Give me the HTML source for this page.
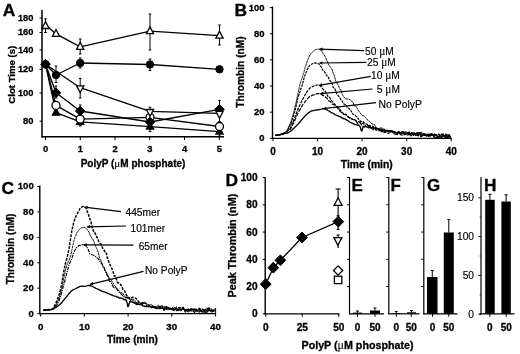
<!DOCTYPE html>
<html><head><meta charset="utf-8"><title>Figure</title>
<style>
html,body{margin:0;padding:0;background:#fff;}
body{width:520px;height:354px;overflow:hidden;font-family:"Liberation Sans",sans-serif;}
svg{display:block;filter:grayscale(100%);}
svg text{font-family:"Liberation Sans",sans-serif;fill:#000;}
</style></head><body>
<svg width="520" height="354" viewBox="0 0 520 354">
<rect width="520" height="354" fill="#fff"/>
<text transform="translate(2.8 15.6) scale(1.1 1)" font-size="15.8" font-weight="bold" stroke="#000" stroke-width="0.3">A</text>
<line x1="42.00" y1="10.00" x2="42.00" y2="137.60" stroke="#000" stroke-width="1.5"/>
<line x1="41.30" y1="136.80" x2="224.00" y2="136.80" stroke="#000" stroke-width="1.4"/>
<line x1="39.50" y1="18.00" x2="42.00" y2="18.00" stroke="#000" stroke-width="1"/>
<text x="33.4" y="20.9" font-size="9.3" font-weight="bold" text-anchor="end" stroke="#000" stroke-width="0.3">180</text>
<line x1="39.50" y1="32.50" x2="42.00" y2="32.50" stroke="#000" stroke-width="1"/>
<text x="33.4" y="35.4" font-size="9.3" font-weight="bold" text-anchor="end" stroke="#000" stroke-width="0.3">160</text>
<line x1="39.50" y1="50.00" x2="42.00" y2="50.00" stroke="#000" stroke-width="1"/>
<text x="33.4" y="52.9" font-size="9.3" font-weight="bold" text-anchor="end" stroke="#000" stroke-width="0.3">140</text>
<line x1="39.50" y1="69.50" x2="42.00" y2="69.50" stroke="#000" stroke-width="1"/>
<text x="33.4" y="72.4" font-size="9.3" font-weight="bold" text-anchor="end" stroke="#000" stroke-width="0.3">120</text>
<line x1="39.50" y1="93.00" x2="42.00" y2="93.00" stroke="#000" stroke-width="1"/>
<text x="33.4" y="95.9" font-size="9.3" font-weight="bold" text-anchor="end" stroke="#000" stroke-width="0.3">100</text>
<line x1="39.50" y1="121.20" x2="42.00" y2="121.20" stroke="#000" stroke-width="1"/>
<text x="33.4" y="124.10000000000001" font-size="9.3" font-weight="bold" text-anchor="end" stroke="#000" stroke-width="0.3">80</text>
<line x1="45.50" y1="137.00" x2="45.50" y2="140.00" stroke="#000" stroke-width="1"/>
<text x="45.5" y="152.4" font-size="9.3" font-weight="bold" text-anchor="middle" stroke="#000" stroke-width="0.3">0</text>
<line x1="80.25" y1="137.00" x2="80.25" y2="140.00" stroke="#000" stroke-width="1"/>
<text x="80.25" y="152.4" font-size="9.3" font-weight="bold" text-anchor="middle" stroke="#000" stroke-width="0.3">1</text>
<line x1="115.00" y1="137.00" x2="115.00" y2="140.00" stroke="#000" stroke-width="1"/>
<text x="115.0" y="152.4" font-size="9.3" font-weight="bold" text-anchor="middle" stroke="#000" stroke-width="0.3">2</text>
<line x1="149.75" y1="137.00" x2="149.75" y2="140.00" stroke="#000" stroke-width="1"/>
<text x="149.75" y="152.4" font-size="9.3" font-weight="bold" text-anchor="middle" stroke="#000" stroke-width="0.3">3</text>
<line x1="184.50" y1="137.00" x2="184.50" y2="140.00" stroke="#000" stroke-width="1"/>
<text x="184.5" y="152.4" font-size="9.3" font-weight="bold" text-anchor="middle" stroke="#000" stroke-width="0.3">4</text>
<line x1="219.25" y1="137.00" x2="219.25" y2="140.00" stroke="#000" stroke-width="1"/>
<text x="219.25" y="152.4" font-size="9.3" font-weight="bold" text-anchor="middle" stroke="#000" stroke-width="0.3">5</text>
<text x="133" y="166.6" font-size="10" font-weight="bold" text-anchor="middle" stroke="#000" stroke-width="0.3">PolyP (<tspan style="font-family:&quot;Liberation Serif&quot;,serif;font-weight:normal;stroke-width:0.1" font-size="112%">μ</tspan>M phosphate)</text>
<text x="14.8" y="74.7" font-size="9.6" font-weight="bold" text-anchor="middle" stroke="#000" stroke-width="0.3" transform="rotate(-90 14.8 74.7)">Clot Time (s)</text>
<path d="M45.5,24.7 L56.0,33.9 L80.2,46.8 L150.0,31.2 L219.5,35.6" fill="none" stroke="#000" stroke-width="1.35" stroke-linejoin="round"/>
<path d="M45.5,64.2 L56.0,112.7 L80.2,121.8 L150.0,126.6 L219.5,131.6" fill="none" stroke="#000" stroke-width="1.35" stroke-linejoin="round"/>
<path d="M45.5,64.2 L56.0,105.4 L80.2,119.1 L150.0,117.3 L219.5,126.5" fill="none" stroke="#000" stroke-width="1.35" stroke-linejoin="round"/>
<path d="M45.5,64.2 L56.0,92.8 L80.2,111.0 L150.0,122.0 L219.5,109.3" fill="none" stroke="#000" stroke-width="1.35" stroke-linejoin="round"/>
<path d="M45.5,64.2 L80.2,87.7 L150.0,111.4 L219.5,113.3" fill="none" stroke="#000" stroke-width="1.35" stroke-linejoin="round"/>
<path d="M45.5,64.2 L56.0,75.0 L80.2,63.0 L150.0,64.5 L219.5,69.3" fill="none" stroke="#000" stroke-width="1.35" stroke-linejoin="round"/>
<line x1="45.50" y1="18.80" x2="45.50" y2="32.50" stroke="#000" stroke-width="1"/>
<line x1="44.20" y1="18.80" x2="46.80" y2="18.80" stroke="#000" stroke-width="1"/>
<line x1="44.20" y1="32.50" x2="46.80" y2="32.50" stroke="#000" stroke-width="1"/>
<line x1="80.20" y1="39.00" x2="80.20" y2="54.00" stroke="#000" stroke-width="1"/>
<line x1="78.90" y1="39.00" x2="81.50" y2="39.00" stroke="#000" stroke-width="1"/>
<line x1="78.90" y1="54.00" x2="81.50" y2="54.00" stroke="#000" stroke-width="1"/>
<line x1="150.00" y1="14.00" x2="150.00" y2="50.00" stroke="#000" stroke-width="1"/>
<line x1="148.70" y1="14.00" x2="151.30" y2="14.00" stroke="#000" stroke-width="1"/>
<line x1="148.70" y1="50.00" x2="151.30" y2="50.00" stroke="#000" stroke-width="1"/>
<line x1="219.50" y1="25.00" x2="219.50" y2="45.00" stroke="#000" stroke-width="1"/>
<line x1="218.20" y1="25.00" x2="220.80" y2="25.00" stroke="#000" stroke-width="1"/>
<line x1="218.20" y1="45.00" x2="220.80" y2="45.00" stroke="#000" stroke-width="1"/>
<line x1="150.00" y1="120.00" x2="150.00" y2="131.60" stroke="#000" stroke-width="1"/>
<line x1="148.70" y1="120.00" x2="151.30" y2="120.00" stroke="#000" stroke-width="1"/>
<line x1="148.70" y1="131.60" x2="151.30" y2="131.60" stroke="#000" stroke-width="1"/>
<line x1="80.20" y1="118.00" x2="80.20" y2="126.00" stroke="#000" stroke-width="1"/>
<line x1="78.90" y1="118.00" x2="81.50" y2="118.00" stroke="#000" stroke-width="1"/>
<line x1="78.90" y1="126.00" x2="81.50" y2="126.00" stroke="#000" stroke-width="1"/>
<line x1="219.50" y1="128.00" x2="219.50" y2="136.00" stroke="#000" stroke-width="1"/>
<line x1="218.20" y1="128.00" x2="220.80" y2="128.00" stroke="#000" stroke-width="1"/>
<line x1="218.20" y1="136.00" x2="220.80" y2="136.00" stroke="#000" stroke-width="1"/>
<line x1="80.20" y1="114.00" x2="80.20" y2="125.00" stroke="#000" stroke-width="1"/>
<line x1="78.90" y1="114.00" x2="81.50" y2="114.00" stroke="#000" stroke-width="1"/>
<line x1="78.90" y1="125.00" x2="81.50" y2="125.00" stroke="#000" stroke-width="1"/>
<line x1="150.00" y1="112.00" x2="150.00" y2="123.00" stroke="#000" stroke-width="1"/>
<line x1="148.70" y1="112.00" x2="151.30" y2="112.00" stroke="#000" stroke-width="1"/>
<line x1="148.70" y1="123.00" x2="151.30" y2="123.00" stroke="#000" stroke-width="1"/>
<line x1="56.00" y1="86.00" x2="56.00" y2="98.00" stroke="#000" stroke-width="1"/>
<line x1="54.70" y1="86.00" x2="57.30" y2="86.00" stroke="#000" stroke-width="1"/>
<line x1="54.70" y1="98.00" x2="57.30" y2="98.00" stroke="#000" stroke-width="1"/>
<line x1="80.20" y1="105.00" x2="80.20" y2="116.00" stroke="#000" stroke-width="1"/>
<line x1="78.90" y1="105.00" x2="81.50" y2="105.00" stroke="#000" stroke-width="1"/>
<line x1="78.90" y1="116.00" x2="81.50" y2="116.00" stroke="#000" stroke-width="1"/>
<line x1="219.50" y1="100.50" x2="219.50" y2="116.00" stroke="#000" stroke-width="1"/>
<line x1="218.20" y1="100.50" x2="220.80" y2="100.50" stroke="#000" stroke-width="1"/>
<line x1="218.20" y1="116.00" x2="220.80" y2="116.00" stroke="#000" stroke-width="1"/>
<line x1="80.20" y1="78.40" x2="80.20" y2="98.00" stroke="#000" stroke-width="1"/>
<line x1="78.90" y1="78.40" x2="81.50" y2="78.40" stroke="#000" stroke-width="1"/>
<line x1="78.90" y1="98.00" x2="81.50" y2="98.00" stroke="#000" stroke-width="1"/>
<line x1="150.00" y1="107.20" x2="150.00" y2="118.00" stroke="#000" stroke-width="1"/>
<line x1="148.70" y1="107.20" x2="151.30" y2="107.20" stroke="#000" stroke-width="1"/>
<line x1="148.70" y1="118.00" x2="151.30" y2="118.00" stroke="#000" stroke-width="1"/>
<line x1="219.50" y1="110.00" x2="219.50" y2="121.50" stroke="#000" stroke-width="1"/>
<line x1="218.20" y1="110.00" x2="220.80" y2="110.00" stroke="#000" stroke-width="1"/>
<line x1="218.20" y1="121.50" x2="220.80" y2="121.50" stroke="#000" stroke-width="1"/>
<line x1="56.00" y1="66.00" x2="56.00" y2="82.50" stroke="#000" stroke-width="1"/>
<line x1="54.70" y1="66.00" x2="57.30" y2="66.00" stroke="#000" stroke-width="1"/>
<line x1="54.70" y1="82.50" x2="57.30" y2="82.50" stroke="#000" stroke-width="1"/>
<line x1="80.20" y1="58.00" x2="80.20" y2="68.00" stroke="#000" stroke-width="1"/>
<line x1="78.90" y1="58.00" x2="81.50" y2="58.00" stroke="#000" stroke-width="1"/>
<line x1="78.90" y1="68.00" x2="81.50" y2="68.00" stroke="#000" stroke-width="1"/>
<line x1="150.00" y1="59.00" x2="150.00" y2="70.50" stroke="#000" stroke-width="1"/>
<line x1="148.70" y1="59.00" x2="151.30" y2="59.00" stroke="#000" stroke-width="1"/>
<line x1="148.70" y1="70.50" x2="151.30" y2="70.50" stroke="#000" stroke-width="1"/>
<path d="M41.90,28.52 L49.10,28.52 L45.50,21.64 Z" fill="#fff" stroke="#000" stroke-width="1.3"/>
<path d="M52.40,36.42 L59.60,36.42 L56.00,29.54 Z" fill="#fff" stroke="#000" stroke-width="1.3"/>
<path d="M76.60,49.32 L83.80,49.32 L80.20,42.44 Z" fill="#fff" stroke="#000" stroke-width="1.3"/>
<path d="M146.40,33.72 L153.60,33.72 L150.00,26.84 Z" fill="#fff" stroke="#000" stroke-width="1.3"/>
<path d="M215.90,38.12 L223.10,38.12 L219.50,31.24 Z" fill="#fff" stroke="#000" stroke-width="1.3"/>
<path d="M52.40,115.22 L59.60,115.22 L56.00,108.34 Z" fill="#000" stroke="#000" stroke-width="1.3"/>
<path d="M76.60,124.32 L83.80,124.32 L80.20,117.44 Z" fill="#000" stroke="#000" stroke-width="1.3"/>
<path d="M146.40,129.12 L153.60,129.12 L150.00,122.24 Z" fill="#000" stroke="#000" stroke-width="1.3"/>
<path d="M215.90,134.12 L223.10,134.12 L219.50,127.24 Z" fill="#000" stroke="#000" stroke-width="1.3"/>
<circle cx="56.00" cy="105.40" r="4.0" fill="#fff" stroke="#000" stroke-width="1.3"/>
<circle cx="80.20" cy="119.10" r="4.0" fill="#fff" stroke="#000" stroke-width="1.3"/>
<circle cx="150.00" cy="117.30" r="4.0" fill="#fff" stroke="#000" stroke-width="1.3"/>
<circle cx="219.50" cy="126.50" r="4.0" fill="#fff" stroke="#000" stroke-width="1.3"/>
<path d="M40.70,64.20 L45.50,59.40 L50.30,64.20 L45.50,69.00 Z" fill="#000" stroke="#000" stroke-width="1"/>
<path d="M51.20,92.75 L56.00,87.95 L60.80,92.75 L56.00,97.55 Z" fill="#000" stroke="#000" stroke-width="1"/>
<path d="M75.40,111.00 L80.20,106.20 L85.00,111.00 L80.20,115.80 Z" fill="#000" stroke="#000" stroke-width="1"/>
<path d="M145.20,122.00 L150.00,117.20 L154.80,122.00 L150.00,126.80 Z" fill="#000" stroke="#000" stroke-width="1"/>
<path d="M214.70,109.30 L219.50,104.50 L224.30,109.30 L219.50,114.10 Z" fill="#000" stroke="#000" stroke-width="1"/>
<path d="M76.60,85.78 L83.80,85.78 L80.20,92.66 Z" fill="#fff" stroke="#000" stroke-width="1.3"/>
<path d="M146.40,109.48 L153.60,109.48 L150.00,116.36 Z" fill="#fff" stroke="#000" stroke-width="1.3"/>
<path d="M215.90,111.38 L223.10,111.38 L219.50,118.26 Z" fill="#fff" stroke="#000" stroke-width="1.3"/>
<circle cx="45.50" cy="64.20" r="3.7" fill="#000" stroke="#000" stroke-width="1"/>
<circle cx="56.00" cy="75.00" r="3.7" fill="#000" stroke="#000" stroke-width="1"/>
<circle cx="80.20" cy="63.00" r="3.7" fill="#000" stroke="#000" stroke-width="1"/>
<circle cx="150.00" cy="64.50" r="3.7" fill="#000" stroke="#000" stroke-width="1"/>
<circle cx="219.50" cy="69.30" r="3.7" fill="#000" stroke="#000" stroke-width="1"/>
<text transform="translate(234.4 15.5) scale(1.1 1)" font-size="15.8" font-weight="bold" stroke="#000" stroke-width="0.3">B</text>
<line x1="272.50" y1="6.50" x2="272.50" y2="138.90" stroke="#000" stroke-width="1.4"/>
<line x1="271.90" y1="138.30" x2="451.80" y2="138.30" stroke="#000" stroke-width="1.3"/>
<line x1="270.00" y1="138.30" x2="272.50" y2="138.30" stroke="#000" stroke-width="1"/>
<text x="264.5" y="141.3" font-size="9.5" font-weight="bold" text-anchor="end" stroke="#000" stroke-width="0.3">0</text>
<line x1="270.00" y1="112.16" x2="272.50" y2="112.16" stroke="#000" stroke-width="1"/>
<text x="264.5" y="115.16000000000001" font-size="9.5" font-weight="bold" text-anchor="end" stroke="#000" stroke-width="0.3">20</text>
<line x1="270.00" y1="86.02" x2="272.50" y2="86.02" stroke="#000" stroke-width="1"/>
<text x="264.5" y="89.02000000000001" font-size="9.5" font-weight="bold" text-anchor="end" stroke="#000" stroke-width="0.3">40</text>
<line x1="270.00" y1="59.88" x2="272.50" y2="59.88" stroke="#000" stroke-width="1"/>
<text x="264.5" y="62.88000000000001" font-size="9.5" font-weight="bold" text-anchor="end" stroke="#000" stroke-width="0.3">60</text>
<line x1="270.00" y1="33.74" x2="272.50" y2="33.74" stroke="#000" stroke-width="1"/>
<text x="264.5" y="36.74000000000001" font-size="9.5" font-weight="bold" text-anchor="end" stroke="#000" stroke-width="0.3">80</text>
<line x1="270.00" y1="7.60" x2="272.50" y2="7.60" stroke="#000" stroke-width="1"/>
<text x="264.5" y="10.600000000000023" font-size="9.5" font-weight="bold" text-anchor="end" stroke="#000" stroke-width="0.3">100</text>
<line x1="273.00" y1="138.30" x2="273.00" y2="141.30" stroke="#000" stroke-width="1"/>
<text x="273.0" y="154.7" font-size="10" font-weight="bold" text-anchor="middle" stroke="#000" stroke-width="0.3">0</text>
<line x1="317.56" y1="138.30" x2="317.56" y2="141.30" stroke="#000" stroke-width="1"/>
<text x="317.56" y="154.7" font-size="10" font-weight="bold" text-anchor="middle" stroke="#000" stroke-width="0.3">10</text>
<line x1="362.12" y1="138.30" x2="362.12" y2="141.30" stroke="#000" stroke-width="1"/>
<text x="362.12" y="154.7" font-size="10" font-weight="bold" text-anchor="middle" stroke="#000" stroke-width="0.3">20</text>
<line x1="406.68" y1="138.30" x2="406.68" y2="141.30" stroke="#000" stroke-width="1"/>
<text x="406.68" y="154.7" font-size="10" font-weight="bold" text-anchor="middle" stroke="#000" stroke-width="0.3">30</text>
<line x1="451.24" y1="138.30" x2="451.24" y2="141.30" stroke="#000" stroke-width="1"/>
<text x="451.24" y="154.7" font-size="10" font-weight="bold" text-anchor="middle" stroke="#000" stroke-width="0.3">40</text>
<text x="366.75" y="168" font-size="10.3" font-weight="bold" text-anchor="middle" stroke="#000" stroke-width="0.3">Time (min)</text>
<text x="244.4" y="72" font-size="10.2" font-weight="bold" text-anchor="middle" stroke="#000" stroke-width="0.3" transform="rotate(-90 244.4 72)">Thrombin (nM)</text>
<path d="M275.5,135.3 L276.6,135.1 L277.7,135.2 L278.8,134.7 L280.0,134.6 L281.4,134.1 L282.5,133.7 L283.5,133.5 L284.5,132.9 L285.4,132.5 L286.4,131.3 L287.2,130.0 L287.7,129.3 L288.1,128.5 L288.5,127.1 L289.0,126.1 L289.6,124.9 L290.1,123.7 L290.5,122.6 L290.9,121.5 L291.3,120.8 L291.6,119.2 L292.0,118.5 L292.4,116.8 L292.8,115.3 L293.1,114.3 L293.4,113.4 L293.7,112.6 L294.0,111.2 L294.2,110.3 L294.5,109.3 L294.7,108.2 L295.0,107.2 L295.2,106.0 L295.5,105.0 L295.7,104.1 L295.9,103.3 L296.1,102.2 L296.3,101.1 L296.5,100.3 L296.7,99.2 L297.0,98.1 L297.2,97.4 L297.4,96.3 L297.6,95.1 L297.8,94.2 L298.1,93.2 L298.3,92.3 L298.5,91.2 L298.7,89.9 L298.9,89.2 L299.2,87.7 L299.4,86.9 L299.6,86.1 L300.0,84.3 L300.3,83.4 L300.6,82.1 L300.9,81.4 L301.2,80.5 L301.6,79.4 L301.9,78.6 L302.2,77.4 L302.5,76.6 L302.8,75.6 L303.1,74.5 L303.4,73.5 L303.8,72.7 L304.1,71.7 L304.4,70.4 L304.6,69.5 L304.9,68.2 L305.2,67.5 L305.6,66.5 L306.0,65.2 L306.4,64.1 L306.7,62.8 L307.1,61.8 L307.4,61.0 L307.8,59.7 L308.3,58.6 L308.8,57.2 L309.3,56.2 L309.9,55.1 L310.5,54.5 L311.1,53.4 L312.0,52.4 L312.9,51.5 L313.7,51.0 L314.6,50.1 L315.5,49.7 L316.5,49.3 L317.5,49.2 L318.5,49.2 L319.5,49.6 L320.5,49.9 L321.3,50.8 L322.2,51.9 L322.8,53.1 L323.4,54.2 L324.0,54.8 L325.0,56.2 L326.0,58.6 L327.0,60.7 L328.1,63.3 L329.4,65.8 L330.7,67.3 L331.9,69.0 L333.0,72.5 L334.0,74.7 L334.9,77.7 L335.8,81.2 L336.7,82.7 L337.8,84.6 L339.0,87.3 L340.1,89.7 L341.2,89.9 L342.3,94.4 L343.5,96.4 L345.3,98.7 L347.7,99.1 L349.7,99.4 L351.2,101.0 L352.8,102.0 L354.3,105.8 L355.8,106.0 L357.2,108.2 L358.6,110.9 L360.2,112.8 L362.1,115.3 L364.0,116.1 L365.8,117.8 L367.7,120.2 L369.7,121.6 L372.0,124.1 L374.2,124.2 L376.6,128.4 L378.9,128.5 L381.2,127.7 L383.5,128.9 L385.9,130.1 L388.3,130.7 L390.9,130.3 L393.4,133.6 L395.8,134.6 L398.4,132.7 L400.9,133.0 L403.4,131.6 L405.9,131.9 L408.5,133.1 L411.0,133.0 L413.5,135.6 L416.0,133.0 L418.5,132.6 L421.0,136.7 L423.5,135.1 L426.0,133.7 L428.5,135.5 L431.0,133.5 L433.5,135.7 L435.9,137.7 L438.4,137.4 L441.0,136.8 L443.2,135.0 L445.6,135.6 L447.8,134.8 L450.1,137.4" fill="none" stroke="#000" stroke-width="0.95" stroke-dasharray="2.6 0.5" stroke-linejoin="round"/>
<path d="M275.5,135.4 L276.6,135.4 L277.7,135.0 L278.8,134.8 L280.0,134.7 L281.4,134.4 L282.4,134.0 L283.5,133.6 L284.5,133.2 L285.4,132.6 L286.2,131.8 L287.1,130.8 L287.7,129.8 L288.2,128.8 L288.8,127.8 L289.3,126.8 L289.9,125.6 L290.5,124.5 L291.0,123.3 L291.4,122.1 L291.8,121.3 L292.1,120.3 L292.5,119.2 L292.9,117.6 L293.4,116.1 L293.7,115.1 L294.0,114.1 L294.3,113.1 L294.6,112.2 L294.9,111.2 L295.2,110.2 L295.4,109.0 L295.7,108.1 L295.9,107.1 L296.2,105.9 L296.4,105.1 L296.7,103.7 L296.9,102.7 L297.1,101.7 L297.3,100.6 L297.5,99.5 L297.8,98.7 L298.1,97.5 L298.3,96.7 L298.8,95.3 L299.1,94.1 L299.4,93.1 L299.8,92.3 L300.1,91.2 L300.5,90.0 L300.8,89.0 L301.2,88.0 L301.5,87.4 L302.0,85.9 L302.4,84.4 L302.7,83.5 L303.0,82.5 L303.3,81.3 L303.5,80.2 L303.8,79.3 L304.1,77.6 L304.5,76.2 L305.0,75.2 L305.4,74.0 L305.8,72.9 L306.3,72.0 L306.7,70.8 L307.2,69.9 L307.6,69.0 L308.3,67.5 L309.2,66.2 L310.0,65.3 L310.8,64.6 L312.0,64.0 L313.0,63.4 L314.0,63.2 L315.5,62.9 L317.0,63.3 L318.0,63.5 L319.1,64.4 L319.8,65.3 L320.6,66.4 L321.3,67.1 L322.7,70.0 L324.1,71.2 L325.6,73.6 L326.9,75.7 L328.2,76.6 L329.4,79.9 L330.7,81.5 L332.0,83.2 L333.2,87.5 L334.5,88.0 L335.7,91.0 L336.9,94.0 L338.2,95.7 L339.5,97.2 L341.1,99.9 L342.7,101.9 L344.3,104.5 L345.9,104.5 L347.5,107.9 L349.2,108.8 L351.0,110.7 L352.8,114.0 L354.7,115.0 L356.7,116.9 L358.7,119.3 L360.8,121.5 L362.9,121.5 L365.1,123.6 L367.3,124.4 L369.6,125.6 L371.9,127.3 L374.3,127.3 L376.8,128.3 L379.2,128.9 L381.6,131.6 L384.0,131.5 L386.4,132.8 L388.9,133.4 L391.5,131.0 L393.9,132.5 L396.3,134.4 L398.9,134.3 L401.4,131.6 L403.9,131.8 L406.4,133.4 L409.0,132.0 L411.5,132.9 L414.0,132.4 L416.5,135.1 L419.0,135.8 L421.5,136.5 L424.0,133.5 L426.5,136.1 L429.0,136.0 L431.5,134.0 L434.0,137.2 L436.4,137.7 L439.0,134.7 L441.5,137.9 L443.8,135.6 L446.1,136.1 L448.8,138.3 L451.0,137.7" fill="none" stroke="#000" stroke-width="1.2" stroke-dasharray="2.6 0.9" stroke-linejoin="round"/>
<path d="M275.5,135.3 L276.6,135.2 L277.7,135.1 L278.8,134.8 L280.0,134.5 L281.4,134.1 L282.4,133.9 L283.4,133.2 L284.4,133.0 L285.4,132.4 L286.2,131.7 L287.0,131.2 L288.1,130.4 L288.8,129.6 L289.5,128.6 L290.1,128.1 L290.8,126.8 L291.5,125.6 L291.9,124.3 L292.3,123.4 L292.8,122.3 L293.2,121.7 L293.7,120.1 L294.1,119.1 L294.5,118.3 L294.8,117.5 L295.2,116.5 L295.5,115.3 L295.9,114.3 L296.3,113.7 L296.7,112.5 L297.1,111.6 L297.5,110.3 L297.9,109.3 L298.3,108.6 L298.7,107.5 L299.1,106.5 L299.5,105.9 L300.0,104.8 L300.4,104.0 L301.0,102.4 L301.7,101.3 L302.2,100.1 L302.6,99.5 L303.1,98.5 L303.6,97.5 L304.1,96.6 L304.6,95.8 L305.1,94.7 L305.6,93.7 L306.4,92.7 L307.0,91.6 L307.7,90.7 L308.3,89.9 L309.3,88.8 L310.3,87.9 L311.2,87.3 L312.2,86.7 L313.2,86.4 L314.2,85.8 L315.7,85.4 L316.9,85.0 L318.0,85.0 L319.0,85.1 L320.2,85.9 L321.0,86.6 L321.8,87.8 L323.5,89.7 L325.1,91.0 L326.5,93.4 L328.0,96.6 L329.5,96.8 L331.0,100.6 L332.6,101.6 L334.3,103.6 L336.1,106.3 L338.0,107.1 L339.9,109.4 L341.8,111.7 L343.8,114.2 L345.9,114.0 L348.0,116.9 L350.1,118.0 L352.3,119.2 L354.4,120.0 L356.6,121.3 L358.8,121.6 L361.2,122.9 L363.6,123.6 L366.1,126.7 L368.5,125.9 L371.0,126.3 L373.5,126.7 L376.1,130.0 L378.5,130.7 L381.0,130.7 L383.5,129.8 L385.9,130.2 L388.4,130.7 L390.9,131.7 L393.4,130.8 L395.8,132.3 L398.4,131.8 L400.9,135.0 L403.4,135.3 L405.9,133.7 L408.5,132.7 L411.0,135.9 L413.5,133.4 L416.0,133.8 L418.5,132.5 L421.0,134.3 L423.5,134.9 L426.0,135.2 L428.5,134.1 L431.0,135.5 L433.5,133.5 L435.9,134.7 L438.4,134.1 L441.0,135.5 L443.2,134.1 L445.6,134.1 L447.8,135.4 L450.1,135.1" fill="none" stroke="#000" stroke-width="1.2" stroke-dasharray="3 1.0" stroke-linejoin="round"/>
<path d="M275.5,135.4 L276.6,135.3 L277.7,135.2 L278.8,135.0 L280.0,134.7 L281.4,134.3 L282.4,133.7 L283.4,133.3 L284.4,133.1 L285.3,132.3 L286.2,132.0 L287.1,131.5 L288.0,130.7 L289.2,130.1 L289.9,129.5 L290.6,128.7 L291.4,127.5 L292.1,126.3 L292.6,125.1 L293.0,124.3 L293.5,123.3 L293.9,122.5 L294.3,121.6 L294.8,120.6 L295.2,119.5 L295.6,118.6 L296.1,117.6 L296.5,116.6 L296.9,115.5 L297.3,114.5 L297.8,113.6 L298.4,112.3 L299.1,110.9 L299.8,109.9 L300.3,108.9 L300.8,108.0 L301.3,107.1 L301.9,106.2 L302.5,105.2 L303.1,104.1 L303.7,103.5 L304.3,102.7 L305.0,101.7 L305.7,100.8 L306.4,100.0 L307.1,99.0 L307.8,98.5 L308.8,97.3 L309.7,96.5 L310.6,96.0 L311.6,95.7 L312.5,95.1 L313.5,94.9 L314.5,94.6 L315.5,94.1 L316.6,93.8 L317.6,93.6 L319.0,93.6 L320.0,93.7 L321.3,94.3 L322.3,95.1 L323.3,95.6 L324.5,96.5 L326.7,97.9 L328.6,100.8 L330.5,101.6 L332.4,104.2 L334.3,104.6 L336.2,106.4 L338.1,108.6 L340.0,111.2 L342.0,112.9 L344.0,114.5 L346.1,114.9 L348.3,116.9 L350.5,118.1 L352.8,119.5 L355.2,119.7 L357.5,123.4 L359.9,122.5 L362.3,126.0 L364.6,126.8 L367.0,124.6 L369.4,126.8 L371.7,128.7 L374.4,130.0 L376.9,128.8 L379.5,128.8 L381.6,129.1 L384.1,132.5 L386.7,130.2 L389.1,132.0 L391.5,130.5 L393.9,132.3 L396.3,134.4 L398.9,131.3 L401.4,134.5 L403.9,133.4 L406.4,135.2 L409.0,134.7 L411.5,132.9 L414.0,135.9 L416.5,134.4 L419.0,132.6 L421.5,132.7 L424.0,135.0 L426.5,135.0 L429.0,134.5 L431.5,134.0 L434.0,135.0 L436.4,135.0 L439.0,137.3 L441.5,133.9 L443.8,137.1 L446.1,137.6 L448.8,134.6 L451.0,138.1" fill="none" stroke="#000" stroke-width="1.2" stroke-dasharray="4 1.1" stroke-linejoin="round"/>
<path d="M275.5,135.4 L276.6,135.3 L277.7,135.2 L278.8,135.0 L280.0,134.8 L281.0,134.6 L282.1,134.3 L283.3,134.0 L284.4,133.7 L285.4,133.4 L286.5,133.1 L287.5,133.0 L289.0,132.3 L290.1,131.5 L290.8,130.9 L291.7,130.2 L292.5,129.4 L293.3,128.7 L294.1,128.0 L294.8,127.3 L295.5,126.6 L296.3,125.9 L297.0,125.1 L297.8,124.4 L298.5,123.6 L299.2,122.8 L299.9,122.0 L300.6,121.2 L301.2,120.3 L301.9,119.5 L302.6,118.7 L303.6,117.6 L304.3,116.8 L305.1,116.0 L305.8,115.3 L306.8,114.3 L307.6,113.6 L308.5,112.9 L309.3,112.3 L310.2,111.7 L311.1,111.2 L312.1,110.8 L313.2,110.6 L314.3,110.4 L315.4,110.2 L316.4,110.0 L317.5,109.8 L318.6,109.6 L319.6,109.5 L320.6,109.3 L321.6,109.1 L322.9,108.7 L324.0,108.7 L325.0,108.9 L326.2,109.5 L327.1,109.9 L328.0,110.5 L329.0,111.0 L329.9,111.6 L330.8,112.3 L331.7,112.9 L332.6,113.0 L333.5,113.5 L334.4,114.0 L335.3,114.9 L336.2,115.1 L337.1,115.5 L338.0,116.0 L339.0,116.3 L339.9,116.6 L340.9,117.1 L341.9,118.0 L342.9,118.0 L343.8,118.9 L344.8,118.9 L345.7,119.4 L346.6,120.1 L347.6,120.4 L348.5,121.0 L349.4,122.0 L350.3,122.4 L351.6,123.0 L352.6,123.4 L353.7,124.0 L354.7,124.4 L356.0,124.6 L357.2,125.2 L358.5,125.0 L359.8,126.2 L360.4,127.4 L360.7,128.8 L361.3,130.5 L361.8,131.1 L362.3,129.5 L362.6,128.9 L363.1,127.0 L364.2,126.6 L365.4,126.5 L366.5,126.7 L367.8,127.4 L368.9,127.8 L370.2,127.4 L371.7,128.0 L372.7,127.9 L373.8,128.3 L374.8,128.4 L375.9,128.4 L376.9,128.6 L377.9,128.9 L378.9,129.9 L380.0,129.7 L381.0,129.7 L382.1,130.7 L383.1,131.1 L384.1,130.7 L385.5,130.7 L386.6,131.0 L387.6,131.0 L389.0,131.5 L390.5,131.3 L391.5,131.6 L392.5,131.8 L393.9,132.3 L395.3,132.9 L396.8,132.9 L397.8,132.7 L398.9,132.8 L400.0,133.0 L401.4,133.0 L402.9,133.1 L403.9,132.8 L404.9,133.2 L405.9,134.1 L406.9,133.2 L408.0,133.7 L409.0,134.0 L410.0,134.4 L411.0,133.6 L412.0,133.8 L413.0,133.8 L414.0,134.1 L415.0,134.2 L416.0,135.0 L417.0,134.9 L418.0,135.1 L419.0,134.0 L420.0,134.0 L421.0,135.1 L422.0,135.4 L423.0,134.9 L424.0,135.1 L425.0,134.4 L426.0,135.0 L427.0,135.8 L428.0,135.7 L429.0,135.8 L430.0,136.1 L431.5,135.1 L433.0,135.0 L434.4,135.2 L435.9,135.7 L437.4,136.0 L438.4,136.5 L439.5,136.2 L440.5,136.1 L441.5,136.3 L442.7,135.9 L443.8,136.1 L445.0,135.4 L446.1,136.5 L447.2,135.8 L448.3,136.8 L449.7,136.5 L450.7,136.0" fill="none" stroke="#000" stroke-width="1.35" stroke-linejoin="round"/>
<line x1="364.00" y1="50.60" x2="319.50" y2="49.10" stroke="#000" stroke-width="1.25"/>
<path d="M319.50,49.10 L322.68,47.41 L322.56,51.00 Z" fill="#000"/>
<line x1="366.30" y1="62.30" x2="319.30" y2="63.00" stroke="#000" stroke-width="1.25"/>
<path d="M319.30,63.00 L322.39,61.15 L322.44,64.75 Z" fill="#000"/>
<line x1="370.80" y1="76.30" x2="319.00" y2="85.40" stroke="#000" stroke-width="1.25"/>
<path d="M319.00,85.40 L321.76,83.09 L322.38,86.63 Z" fill="#000"/>
<line x1="372.50" y1="89.00" x2="320.30" y2="93.60" stroke="#000" stroke-width="1.25"/>
<path d="M320.30,93.60 L323.25,91.53 L323.56,95.12 Z" fill="#000"/>
<line x1="376.00" y1="102.60" x2="323.20" y2="108.70" stroke="#000" stroke-width="1.25"/>
<path d="M323.20,108.70 L326.09,106.55 L326.50,110.13 Z" fill="#000"/>
<text x="365" y="54.5" font-size="10.2" font-weight="normal" text-anchor="start" stroke="#000" stroke-width="0.15">50 <tspan style="font-family:&quot;Liberation Serif&quot;,serif;font-weight:normal;stroke-width:0.1" font-size="112%">μ</tspan>M</text>
<text x="367" y="65.5" font-size="10.2" font-weight="normal" text-anchor="start" stroke="#000" stroke-width="0.15">25 <tspan style="font-family:&quot;Liberation Serif&quot;,serif;font-weight:normal;stroke-width:0.1" font-size="112%">μ</tspan>M</text>
<text x="371" y="78.8" font-size="10.2" font-weight="normal" text-anchor="start" stroke="#000" stroke-width="0.15">10 <tspan style="font-family:&quot;Liberation Serif&quot;,serif;font-weight:normal;stroke-width:0.1" font-size="112%">μ</tspan>M</text>
<text x="376.8" y="93.4" font-size="10.2" font-weight="normal" text-anchor="start" stroke="#000" stroke-width="0.15">5 <tspan style="font-family:&quot;Liberation Serif&quot;,serif;font-weight:normal;stroke-width:0.1" font-size="112%">μ</tspan>M</text>
<text x="378.6" y="107.5" font-size="10.4" font-weight="normal" text-anchor="start" stroke="#000" stroke-width="0.15">No PolyP</text>
<text transform="translate(1.5 193.9) scale(1.1 1)" font-size="15.8" font-weight="bold" stroke="#000" stroke-width="0.3">C</text>
<line x1="39.80" y1="185.50" x2="39.80" y2="314.20" stroke="#000" stroke-width="1.4"/>
<line x1="39.20" y1="313.60" x2="216.00" y2="313.60" stroke="#000" stroke-width="1.3"/>
<line x1="215.60" y1="308.00" x2="215.60" y2="316.00" stroke="#000" stroke-width="1"/>
<line x1="37.30" y1="313.60" x2="39.80" y2="313.60" stroke="#000" stroke-width="1"/>
<text x="33.7" y="316.5" font-size="9.5" font-weight="bold" text-anchor="end" stroke="#000" stroke-width="0.3">0</text>
<line x1="37.30" y1="288.18" x2="39.80" y2="288.18" stroke="#000" stroke-width="1"/>
<text x="33.7" y="291.08" font-size="9.5" font-weight="bold" text-anchor="end" stroke="#000" stroke-width="0.3">20</text>
<line x1="37.30" y1="262.76" x2="39.80" y2="262.76" stroke="#000" stroke-width="1"/>
<text x="33.7" y="265.66" font-size="9.5" font-weight="bold" text-anchor="end" stroke="#000" stroke-width="0.3">40</text>
<line x1="37.30" y1="237.34" x2="39.80" y2="237.34" stroke="#000" stroke-width="1"/>
<text x="33.7" y="240.24000000000004" font-size="9.5" font-weight="bold" text-anchor="end" stroke="#000" stroke-width="0.3">60</text>
<line x1="37.30" y1="211.92" x2="39.80" y2="211.92" stroke="#000" stroke-width="1"/>
<text x="33.7" y="214.82000000000002" font-size="9.5" font-weight="bold" text-anchor="end" stroke="#000" stroke-width="0.3">80</text>
<line x1="37.30" y1="186.50" x2="39.80" y2="186.50" stroke="#000" stroke-width="1"/>
<text x="33.7" y="189.40000000000003" font-size="9.5" font-weight="bold" text-anchor="end" stroke="#000" stroke-width="0.3">100</text>
<line x1="40.70" y1="313.60" x2="40.70" y2="316.60" stroke="#000" stroke-width="1"/>
<text x="40.7" y="329.9" font-size="9.8" font-weight="bold" text-anchor="middle" stroke="#000" stroke-width="0.3">0</text>
<line x1="84.40" y1="313.60" x2="84.40" y2="316.60" stroke="#000" stroke-width="1"/>
<text x="84.4" y="329.9" font-size="9.8" font-weight="bold" text-anchor="middle" stroke="#000" stroke-width="0.3">10</text>
<line x1="128.10" y1="313.60" x2="128.10" y2="316.60" stroke="#000" stroke-width="1"/>
<text x="128.10000000000002" y="329.9" font-size="9.8" font-weight="bold" text-anchor="middle" stroke="#000" stroke-width="0.3">20</text>
<line x1="171.80" y1="313.60" x2="171.80" y2="316.60" stroke="#000" stroke-width="1"/>
<text x="171.8" y="329.9" font-size="9.8" font-weight="bold" text-anchor="middle" stroke="#000" stroke-width="0.3">30</text>
<line x1="215.50" y1="313.60" x2="215.50" y2="316.60" stroke="#000" stroke-width="1"/>
<text x="215.5" y="329.9" font-size="9.8" font-weight="bold" text-anchor="middle" stroke="#000" stroke-width="0.3">40</text>
<text x="132.5" y="342.8" font-size="10.1" font-weight="bold" text-anchor="middle" stroke="#000" stroke-width="0.3">Time (min)</text>
<text x="14" y="249" font-size="10.1" font-weight="bold" text-anchor="middle" stroke="#000" stroke-width="0.3" transform="rotate(-90 14 249)">Thrombin (nM)</text>
<path d="M43.4,310.1 L44.6,310.0 L45.7,310.1 L46.9,310.0 L48.0,309.6 L49.2,309.5 L50.3,309.7 L51.4,309.5 L52.4,309.0 L53.3,308.0 L54.0,307.0 L54.5,305.7 L55.1,304.6 L55.6,303.5 L56.2,302.5 L56.6,301.4 L57.1,300.5 L57.5,299.3 L57.9,298.2 L58.3,297.2 L58.6,296.4 L58.9,295.3 L59.4,293.8 L59.8,292.2 L60.0,291.4 L60.3,290.5 L60.5,289.4 L60.7,288.3 L61.0,287.5 L61.2,286.6 L61.4,285.3 L61.6,284.2 L61.8,283.3 L62.0,282.4 L62.1,281.4 L62.3,280.2 L62.5,279.5 L62.6,278.4 L62.8,277.3 L63.0,275.7 L63.2,274.6 L63.4,273.4 L63.6,272.5 L63.8,271.2 L64.0,270.2 L64.2,269.4 L64.4,268.2 L64.7,267.0 L65.0,265.4 L65.2,264.3 L65.5,263.3 L65.7,262.4 L66.1,261.0 L66.5,259.7 L66.8,258.4 L67.0,257.5 L67.4,256.1 L67.7,255.0 L68.0,253.2 L68.3,252.2 L68.5,251.2 L68.7,250.2 L68.9,249.0 L69.2,247.6 L69.4,246.6 L69.5,245.6 L69.7,244.6 L69.8,243.3 L70.0,242.2 L70.2,241.5 L70.3,240.4 L70.5,239.1 L70.7,238.3 L70.8,237.2 L71.0,236.1 L71.1,235.1 L71.3,234.0 L71.5,232.9 L71.6,231.9 L71.8,230.9 L72.0,230.2 L72.2,228.8 L72.4,228.2 L72.7,226.8 L72.9,225.8 L73.2,224.9 L73.4,223.9 L73.7,222.7 L74.0,221.6 L74.3,220.8 L74.7,219.4 L75.2,218.2 L75.7,216.8 L76.1,215.9 L76.6,215.2 L77.3,213.6 L78.0,212.5 L78.5,211.6 L79.1,210.6 L79.6,209.3 L80.1,208.4 L81.0,207.3 L82.3,206.9 L83.4,206.6 L84.5,207.0 L85.7,207.6 L86.4,208.6 L86.8,209.7 L87.2,211.2 L87.7,212.5 L88.4,214.0 L89.1,217.1 L89.7,218.3 L90.3,220.2 L91.0,221.7 L91.6,225.4 L92.4,228.2 L93.1,229.6 L94.0,232.8 L94.9,232.8 L96.0,235.3 L97.3,237.9 L98.7,241.3 L100.0,243.6 L100.9,244.0 L101.7,245.7 L102.6,248.1 L104.1,250.2 L105.4,253.2 L106.4,253.2 L107.2,257.4 L108.0,259.3 L108.7,261.6 L109.6,263.9 L110.5,265.8 L111.4,267.3 L112.3,269.7 L113.2,272.1 L114.1,275.9 L115.1,275.8 L116.2,278.4 L117.4,282.6 L118.8,282.9 L120.3,284.2 L121.7,286.1 L123.3,290.1 L124.9,291.2 L126.6,295.6 L128.1,296.8 L130.2,298.9 L132.3,297.3 L134.2,297.5 L136.5,298.7 L138.4,301.4 L140.3,303.3 L142.4,302.8 L144.7,302.6 L147.2,304.2 L149.6,305.9 L152.1,306.8 L154.6,307.7 L156.7,308.6 L159.1,308.2 L161.7,305.5 L163.9,310.2 L166.4,307.2 L168.9,309.1 L171.4,308.0 L174.0,310.4 L176.5,307.3 L178.8,307.7 L181.1,307.9 L183.2,307.4 L185.4,311.9 L187.7,310.2 L190.1,308.8 L192.7,309.3 L194.8,312.9 L196.9,310.1 L199.5,308.5 L202.1,312.0 L204.4,311.1 L206.7,313.2 L209.0,307.9 L211.1,310.2 L213.4,312.3" fill="none" stroke="#000" stroke-width="1.5" stroke-dasharray="2.8 1.2" stroke-linejoin="round"/>
<path d="M43.4,310.4 L44.6,310.3 L45.7,309.8 L46.9,309.8 L48.0,309.6 L49.1,309.6 L50.3,309.9 L51.4,309.5 L52.4,309.2 L53.5,308.1 L54.6,307.2 L55.3,306.1 L56.0,304.8 L56.6,303.9 L57.2,302.7 L57.6,301.3 L58.0,300.6 L58.4,299.6 L58.8,298.4 L59.2,297.4 L59.5,296.2 L59.8,295.3 L60.3,293.9 L60.6,292.7 L60.9,291.7 L61.1,290.5 L61.4,289.5 L61.6,288.6 L61.8,287.8 L62.1,286.5 L62.3,285.6 L62.5,284.6 L62.7,283.8 L63.0,282.7 L63.2,281.4 L63.4,280.3 L63.6,279.4 L63.8,278.5 L64.0,277.5 L64.2,276.2 L64.4,275.3 L64.7,274.1 L64.9,272.9 L65.2,271.7 L65.4,270.7 L65.6,270.0 L65.9,268.7 L66.2,267.4 L66.6,265.9 L67.1,264.4 L67.5,263.7 L67.9,262.8 L68.3,261.6 L68.7,260.6 L69.1,260.0 L69.5,258.7 L69.9,257.7 L70.2,257.1 L70.5,255.9 L70.8,255.1 L71.0,253.9 L71.3,253.1 L71.5,251.8 L71.7,250.6 L72.0,249.5 L72.2,248.8 L72.4,247.8 L72.6,246.9 L72.9,245.5 L73.1,244.7 L73.3,243.6 L73.5,242.6 L73.7,241.5 L74.0,240.6 L74.3,239.7 L74.6,238.9 L74.9,237.4 L75.3,236.6 L75.7,235.7 L76.1,234.9 L76.6,233.2 L77.1,232.2 L77.7,231.6 L78.4,230.7 L79.1,229.8 L79.9,228.9 L80.7,228.6 L81.7,227.7 L82.7,227.5 L84.0,227.1 L85.3,227.8 L86.1,228.3 L86.9,229.5 L87.6,230.2 L89.0,232.2 L90.3,235.5 L91.4,237.6 L92.5,238.6 L93.6,241.0 L94.7,243.7 L95.8,246.5 L96.7,248.6 L97.6,250.5 L98.5,253.2 L99.3,256.8 L100.1,259.7 L100.9,259.8 L101.8,263.3 L102.8,266.1 L103.8,266.7 L104.9,270.9 L106.1,271.3 L107.4,274.8 L108.7,276.8 L110.0,279.2 L111.5,280.5 L112.9,282.8 L114.3,285.3 L115.9,286.9 L117.4,289.6 L119.1,290.8 L120.9,292.7 L122.8,293.2 L124.8,296.7 L126.8,298.0 L129.0,298.5 L131.2,301.5 L133.6,302.8 L135.9,302.5 L138.4,302.2 L141.0,303.9 L143.5,303.1 L146.1,303.7 L148.6,305.4 L151.0,304.5 L153.5,306.2 L156.0,306.9 L158.4,305.3 L160.8,308.3 L163.4,306.3 L165.9,309.4 L168.4,309.8 L170.9,308.8 L173.5,306.9 L176.0,309.1 L178.3,308.7 L180.6,311.4 L183.2,307.9 L185.9,311.2 L188.2,311.9 L190.6,310.8 L193.2,311.3 L195.9,308.6 L198.5,312.2 L201.0,310.1 L203.2,312.2 L205.6,312.1 L207.9,308.8 L210.1,311.6 L212.5,312.2 L214.7,308.5" fill="none" stroke="#000" stroke-width="0.95" stroke-dasharray="2.6 0.5" stroke-linejoin="round"/>
<path d="M43.4,310.1 L44.6,310.2 L45.7,309.9 L46.9,310.1 L48.0,309.7 L49.1,309.8 L50.2,309.5 L51.3,309.4 L52.4,309.2 L53.6,308.2 L54.7,307.4 L55.5,306.8 L56.3,305.9 L57.0,304.8 L57.6,303.7 L58.2,302.4 L58.6,301.8 L59.0,300.7 L59.4,299.8 L59.7,298.5 L60.1,297.7 L60.4,296.4 L60.7,295.6 L61.2,294.2 L61.6,292.7 L61.9,291.9 L62.1,290.8 L62.4,289.8 L62.7,288.9 L62.9,287.6 L63.2,287.0 L63.5,285.8 L63.7,284.8 L64.0,283.9 L64.3,282.7 L64.5,282.0 L64.8,280.8 L65.1,279.6 L65.3,278.8 L65.6,277.6 L65.9,276.5 L66.1,275.8 L66.5,274.1 L66.8,273.3 L67.1,272.0 L67.3,271.1 L67.6,270.2 L67.9,269.0 L68.2,268.1 L68.4,267.0 L68.9,265.4 L69.2,264.5 L69.6,263.4 L70.0,262.6 L70.5,261.5 L70.9,260.6 L71.3,259.9 L71.7,258.6 L72.1,257.7 L72.4,256.8 L72.8,255.6 L73.1,254.6 L73.4,253.7 L73.9,252.3 L74.3,251.4 L74.8,250.3 L75.4,249.5 L75.9,248.6 L76.8,247.3 L77.6,246.7 L78.5,246.0 L79.4,245.3 L80.4,245.3 L81.5,244.8 L82.7,244.7 L83.8,244.7 L84.9,245.0 L85.9,245.5 L86.5,246.3 L87.1,247.4 L87.7,248.7 L88.5,250.2 L89.8,253.7 L92.2,254.8 L94.5,255.5 L96.7,257.6 L98.2,258.8 L100.1,261.5 L101.2,263.2 L102.3,264.1 L103.3,267.7 L104.3,268.0 L105.3,271.5 L106.3,273.5 L107.3,275.4 L108.4,277.3 L109.4,281.3 L110.7,281.5 L112.2,284.9 L113.9,287.9 L115.6,287.6 L117.4,289.7 L119.2,292.5 L121.0,293.9 L122.9,295.9 L125.1,297.9 L127.2,297.2 L129.6,298.8 L132.0,299.8 L134.4,299.9 L136.8,303.7 L139.4,304.1 L141.9,304.6 L144.5,302.6 L147.2,306.4 L149.6,306.6 L152.2,306.0 L154.5,307.6 L157.0,306.8 L159.4,306.3 L161.8,306.2 L164.4,307.1 L166.9,306.5 L169.4,307.9 L171.9,309.9 L174.5,309.8 L176.9,310.6 L179.2,310.2 L181.6,308.4 L184.4,309.8 L186.7,309.4 L189.1,311.0 L191.7,310.0 L194.3,308.9 L196.9,310.6 L199.5,312.1 L202.1,308.9 L204.4,311.9 L206.7,308.1 L209.0,309.2 L211.6,309.2 L214.1,311.5" fill="none" stroke="#000" stroke-width="1.2" stroke-dasharray="3.5 0.9 1.2 0.9" stroke-linejoin="round"/>
<path d="M43.4,310.2 L44.6,310.2 L45.7,310.1 L46.9,310.1 L48.0,310.0 L49.1,309.9 L50.3,309.8 L51.4,309.6 L52.4,309.3 L53.8,308.8 L55.0,308.0 L56.0,307.4 L57.2,306.6 L58.0,306.0 L58.9,305.3 L59.8,304.6 L60.6,303.8 L61.6,302.8 L62.5,301.6 L63.2,300.8 L63.8,300.0 L64.5,299.2 L65.1,298.4 L65.8,297.6 L66.4,296.8 L67.1,295.9 L67.8,295.1 L68.4,294.3 L69.3,293.3 L70.1,292.5 L70.8,291.6 L71.9,290.6 L72.7,290.0 L74.0,289.4 L74.9,289.0 L75.9,288.5 L77.2,287.8 L78.1,287.3 L79.0,286.8 L80.4,286.3 L81.4,286.2 L82.4,286.2 L83.4,286.3 L84.4,286.3 L85.9,286.1 L87.3,285.7 L88.3,285.5 L89.4,285.5 L90.7,285.9 L91.7,286.2 L92.7,286.7 L93.8,287.2 L94.8,287.6 L95.8,288.4 L96.7,288.7 L97.7,288.9 L98.7,289.8 L99.7,289.9 L100.6,290.3 L101.8,291.3 L102.8,291.5 L104.5,291.9 L105.6,292.3 L106.9,293.1 L107.8,293.2 L108.9,293.9 L109.9,294.2 L111.0,294.8 L112.1,295.0 L113.1,295.6 L114.0,295.9 L115.1,296.1 L116.1,296.4 L117.2,297.1 L118.3,297.1 L119.3,298.2 L120.2,297.9 L121.6,298.2 L123.1,298.8 L124.2,299.8 L125.5,299.6 L126.4,300.5 L126.7,301.5 L127.0,302.6 L127.4,304.3 L127.7,305.7 L128.0,306.7 L128.7,305.7 L129.0,303.7 L129.4,303.1 L129.7,301.5 L130.8,301.5 L131.8,301.8 L133.0,302.5 L134.0,302.2 L135.0,303.5 L136.1,304.1 L137.2,304.6 L138.1,304.0 L139.5,304.5 L141.0,304.8 L142.0,304.9 L143.0,306.0 L144.0,306.2 L145.1,306.2 L146.1,306.6 L147.2,306.6 L148.2,306.5 L149.2,306.4 L150.3,306.6 L151.4,307.5 L152.4,307.1 L153.5,307.4 L154.6,307.7 L155.6,307.4 L157.0,307.8 L158.5,308.0 L159.6,308.6 L161.0,308.2 L162.4,308.1 L163.9,308.8 L165.0,308.3 L166.3,308.8 L167.8,308.6 L168.8,307.9 L169.8,308.5 L170.9,308.6 L171.9,309.1 L173.0,308.7 L174.0,309.2 L175.0,309.1 L176.5,308.7 L177.8,309.7 L179.2,308.7 L180.6,309.8 L182.1,309.0 L183.2,308.8 L184.4,309.2 L185.4,310.0 L186.7,310.3 L188.2,309.0 L189.6,309.8 L190.6,309.8 L191.7,310.3 L192.7,309.4 L193.8,309.9 L194.8,309.7 L195.9,310.4 L196.9,309.7 L198.0,310.7 L199.0,309.8 L200.0,309.7 L201.0,310.4 L202.1,310.1 L203.2,309.6 L204.4,310.4 L205.6,309.6 L206.7,310.7 L207.9,310.5 L209.0,310.7 L210.1,310.5 L211.1,310.1 L212.5,310.2 L213.8,310.2 L215.0,310.9" fill="none" stroke="#000" stroke-width="1.35" stroke-linejoin="round"/>
<line x1="121.00" y1="211.60" x2="84.30" y2="207.20" stroke="#000" stroke-width="1.25"/>
<path d="M84.30,207.20 L87.61,205.78 L87.18,209.36 Z" fill="#000"/>
<line x1="126.00" y1="226.00" x2="87.00" y2="226.80" stroke="#000" stroke-width="1.25"/>
<path d="M87.00,226.80 L90.08,224.94 L90.15,228.54 Z" fill="#000"/>
<line x1="133.50" y1="245.00" x2="83.50" y2="244.90" stroke="#000" stroke-width="1.25"/>
<path d="M83.50,244.90 L86.62,243.11 L86.61,246.71 Z" fill="#000"/>
<line x1="143.50" y1="271.30" x2="90.00" y2="284.30" stroke="#000" stroke-width="1.25"/>
<path d="M90.00,284.30 L92.60,281.81 L93.45,285.31 Z" fill="#000"/>
<text x="125.5" y="216" font-size="10.2" font-weight="normal" text-anchor="start" stroke="#000" stroke-width="0.15">445mer</text>
<text x="130.5" y="232.2" font-size="10.2" font-weight="normal" text-anchor="start" stroke="#000" stroke-width="0.15">101mer</text>
<text x="138.7" y="249.7" font-size="10.2" font-weight="normal" text-anchor="start" stroke="#000" stroke-width="0.15">65mer</text>
<text x="145" y="273.6" font-size="10.2" font-weight="normal" text-anchor="start" stroke="#000" stroke-width="0.15">No PolyP</text>
<text transform="translate(225.4 185.5) scale(1.1 1)" font-size="15.8" font-weight="bold" stroke="#000" stroke-width="0.3">D</text>
<line x1="265.20" y1="177.00" x2="265.20" y2="314.40" stroke="#000" stroke-width="1.4"/>
<line x1="264.60" y1="313.80" x2="339.50" y2="313.80" stroke="#000" stroke-width="1.3"/>
<line x1="262.70" y1="313.80" x2="265.20" y2="313.80" stroke="#000" stroke-width="1"/>
<text x="257.5" y="317.3" font-size="10.1" font-weight="bold" text-anchor="end" stroke="#000" stroke-width="0.3">0</text>
<line x1="262.70" y1="286.55" x2="265.20" y2="286.55" stroke="#000" stroke-width="1"/>
<text x="257.5" y="290.05" font-size="10.1" font-weight="bold" text-anchor="end" stroke="#000" stroke-width="0.3">20</text>
<line x1="262.70" y1="259.30" x2="265.20" y2="259.30" stroke="#000" stroke-width="1"/>
<text x="257.5" y="262.8" font-size="10.1" font-weight="bold" text-anchor="end" stroke="#000" stroke-width="0.3">40</text>
<line x1="262.70" y1="232.05" x2="265.20" y2="232.05" stroke="#000" stroke-width="1"/>
<text x="257.5" y="235.55" font-size="10.1" font-weight="bold" text-anchor="end" stroke="#000" stroke-width="0.3">60</text>
<line x1="262.70" y1="204.80" x2="265.20" y2="204.80" stroke="#000" stroke-width="1"/>
<text x="257.5" y="208.3" font-size="10.1" font-weight="bold" text-anchor="end" stroke="#000" stroke-width="0.3">80</text>
<line x1="262.70" y1="177.55" x2="265.20" y2="177.55" stroke="#000" stroke-width="1"/>
<text x="257.5" y="181.05" font-size="10.1" font-weight="bold" text-anchor="end" stroke="#000" stroke-width="0.3">100</text>
<line x1="265.75" y1="313.80" x2="265.75" y2="316.80" stroke="#000" stroke-width="1"/>
<text x="265.75" y="331.3" font-size="10.1" font-weight="bold" text-anchor="middle" stroke="#000" stroke-width="0.3">0</text>
<line x1="302.25" y1="313.80" x2="302.25" y2="316.80" stroke="#000" stroke-width="1"/>
<text x="302.25" y="331.3" font-size="10.1" font-weight="bold" text-anchor="middle" stroke="#000" stroke-width="0.3">25</text>
<line x1="338.75" y1="313.80" x2="338.75" y2="316.80" stroke="#000" stroke-width="1"/>
<text x="338.75" y="331.3" font-size="10.1" font-weight="bold" text-anchor="middle" stroke="#000" stroke-width="0.3">50</text>
<text x="235.9" y="245.6" font-size="10.8" font-weight="bold" text-anchor="middle" stroke="#000" stroke-width="0.3" transform="rotate(-90 235.9 245.6)">Peak Thrombin (nM)</text>
<path d="M265.7,284.2 L273.3,267.7 L280.4,260.3 L302.0,237.5 L338.3,221.6" fill="none" stroke="#000" stroke-width="1.3" stroke-linejoin="round"/>
<line x1="338.10" y1="189.00" x2="338.10" y2="216.00" stroke="#000" stroke-width="1.1"/>
<line x1="335.60" y1="189.00" x2="340.60" y2="189.00" stroke="#000" stroke-width="1.1"/>
<line x1="336.60" y1="215.80" x2="339.60" y2="215.80" stroke="#000" stroke-width="1.1"/>
<line x1="338.10" y1="216.00" x2="338.10" y2="229.50" stroke="#000" stroke-width="1.1"/>
<line x1="336.60" y1="229.30" x2="339.60" y2="229.30" stroke="#000" stroke-width="1.1"/>
<line x1="338.10" y1="235.00" x2="338.10" y2="248.00" stroke="#000" stroke-width="1.1"/>
<line x1="336.60" y1="235.00" x2="339.60" y2="235.00" stroke="#000" stroke-width="1.1"/>
<path d="M260.30,284.20 L265.70,278.80 L271.10,284.20 L265.70,289.60 Z" fill="#000" stroke="#000" stroke-width="1"/>
<path d="M267.90,267.70 L273.30,262.30 L278.70,267.70 L273.30,273.10 Z" fill="#000" stroke="#000" stroke-width="1"/>
<path d="M275.00,260.30 L280.40,254.90 L285.80,260.30 L280.40,265.70 Z" fill="#000" stroke="#000" stroke-width="1"/>
<path d="M296.60,237.50 L302.00,232.10 L307.40,237.50 L302.00,242.90 Z" fill="#000" stroke="#000" stroke-width="1"/>
<path d="M332.90,221.60 L338.30,216.20 L343.70,221.60 L338.30,227.00 Z" fill="#000" stroke="#000" stroke-width="1"/>
<path d="M334.10,205.44 L342.10,205.44 L338.10,197.80 Z" fill="#fff" stroke="#000" stroke-width="1.3"/>
<path d="M333.90,237.66 L341.90,237.66 L337.90,245.30 Z" fill="#fff" stroke="#000" stroke-width="1.3"/>
<path d="M333.5,270.5 L338.1,265.9 L342.7,270.5 L338.1,275.1 Z" fill="#fff" stroke="#000" stroke-width="1.3"/>
<rect x="334.4" y="276.2" width="7.4" height="7.4" fill="#fff" stroke="#000" stroke-width="1.3"/>
<line x1="349.50" y1="177.00" x2="349.50" y2="314.30" stroke="#000" stroke-width="1.2"/>
<line x1="349.00" y1="313.80" x2="384.00" y2="313.80" stroke="#000" stroke-width="1.2"/>
<line x1="347.00" y1="286.55" x2="349.50" y2="286.55" stroke="#000" stroke-width="1"/>
<line x1="347.00" y1="259.30" x2="349.50" y2="259.30" stroke="#000" stroke-width="1"/>
<line x1="347.00" y1="232.05" x2="349.50" y2="232.05" stroke="#000" stroke-width="1"/>
<line x1="347.00" y1="204.80" x2="349.50" y2="204.80" stroke="#000" stroke-width="1"/>
<line x1="347.00" y1="177.55" x2="349.50" y2="177.55" stroke="#000" stroke-width="1"/>
<text transform="translate(351.6 190.6) scale(1.06 1)" font-size="16" font-weight="bold" stroke="#000" stroke-width="0.3">E</text>
<rect x="353.00" y="312.60" width="9.00" height="1.20" fill="#000"/>
<line x1="357.50" y1="311.00" x2="357.50" y2="312.60" stroke="#000" stroke-width="1"/>
<line x1="356.00" y1="311.00" x2="359.00" y2="311.00" stroke="#000" stroke-width="1"/>
<rect x="370.00" y="310.50" width="10.00" height="3.30" fill="#000"/>
<line x1="375.00" y1="308.00" x2="375.00" y2="310.50" stroke="#000" stroke-width="1"/>
<line x1="373.50" y1="308.00" x2="376.50" y2="308.00" stroke="#000" stroke-width="1"/>
<line x1="357.50" y1="313.80" x2="357.50" y2="316.80" stroke="#000" stroke-width="1"/>
<text x="357.5" y="331.3" font-size="10" font-weight="bold" text-anchor="middle" stroke="#000" stroke-width="0.3">0</text>
<line x1="375.00" y1="313.80" x2="375.00" y2="316.80" stroke="#000" stroke-width="1"/>
<text x="375" y="331.3" font-size="10" font-weight="bold" text-anchor="middle" stroke="#000" stroke-width="0.3">50</text>
<line x1="388.80" y1="177.00" x2="388.80" y2="314.30" stroke="#000" stroke-width="1.2"/>
<line x1="388.30" y1="313.80" x2="419.50" y2="313.80" stroke="#000" stroke-width="1.2"/>
<line x1="386.30" y1="286.55" x2="388.80" y2="286.55" stroke="#000" stroke-width="1"/>
<line x1="386.30" y1="259.30" x2="388.80" y2="259.30" stroke="#000" stroke-width="1"/>
<line x1="386.30" y1="232.05" x2="388.80" y2="232.05" stroke="#000" stroke-width="1"/>
<line x1="386.30" y1="204.80" x2="388.80" y2="204.80" stroke="#000" stroke-width="1"/>
<line x1="386.30" y1="177.55" x2="388.80" y2="177.55" stroke="#000" stroke-width="1"/>
<text transform="translate(390.6 190.6) scale(1.06 1)" font-size="16" font-weight="bold" stroke="#000" stroke-width="0.3">F</text>
<rect x="392.00" y="313.00" width="8.50" height="0.80" fill="#000"/>
<line x1="396.25" y1="311.60" x2="396.25" y2="313.00" stroke="#000" stroke-width="1"/>
<line x1="394.75" y1="311.60" x2="397.75" y2="311.60" stroke="#000" stroke-width="1"/>
<rect x="407.00" y="312.30" width="9.00" height="1.50" fill="#000"/>
<line x1="411.50" y1="310.60" x2="411.50" y2="312.30" stroke="#000" stroke-width="1"/>
<line x1="410.00" y1="310.60" x2="413.00" y2="310.60" stroke="#000" stroke-width="1"/>
<line x1="396.30" y1="313.80" x2="396.30" y2="316.80" stroke="#000" stroke-width="1"/>
<text x="396.3" y="331.3" font-size="10" font-weight="bold" text-anchor="middle" stroke="#000" stroke-width="0.3">0</text>
<line x1="411.30" y1="313.80" x2="411.30" y2="316.80" stroke="#000" stroke-width="1"/>
<text x="411.3" y="331.3" font-size="10" font-weight="bold" text-anchor="middle" stroke="#000" stroke-width="0.3">50</text>
<line x1="423.80" y1="177.00" x2="423.80" y2="314.30" stroke="#000" stroke-width="1.2"/>
<line x1="423.30" y1="313.80" x2="457.50" y2="313.80" stroke="#000" stroke-width="1.2"/>
<line x1="421.30" y1="286.55" x2="423.80" y2="286.55" stroke="#000" stroke-width="1"/>
<line x1="421.30" y1="259.30" x2="423.80" y2="259.30" stroke="#000" stroke-width="1"/>
<line x1="421.30" y1="232.05" x2="423.80" y2="232.05" stroke="#000" stroke-width="1"/>
<line x1="421.30" y1="204.80" x2="423.80" y2="204.80" stroke="#000" stroke-width="1"/>
<line x1="421.30" y1="177.55" x2="423.80" y2="177.55" stroke="#000" stroke-width="1"/>
<text transform="translate(427.1 190.6) scale(1.06 1)" font-size="16" font-weight="bold" stroke="#000" stroke-width="0.3">G</text>
<rect x="427.00" y="277.00" width="10.50" height="36.80" fill="#000"/>
<line x1="432.25" y1="270.50" x2="432.25" y2="277.00" stroke="#000" stroke-width="1"/>
<line x1="430.75" y1="270.50" x2="433.75" y2="270.50" stroke="#000" stroke-width="1"/>
<rect x="443.80" y="232.50" width="10.00" height="81.30" fill="#000"/>
<line x1="448.80" y1="219.50" x2="448.80" y2="232.50" stroke="#000" stroke-width="1"/>
<line x1="447.30" y1="219.50" x2="450.30" y2="219.50" stroke="#000" stroke-width="1"/>
<line x1="432.50" y1="313.80" x2="432.50" y2="316.80" stroke="#000" stroke-width="1"/>
<text x="432.5" y="331.3" font-size="10" font-weight="bold" text-anchor="middle" stroke="#000" stroke-width="0.3">0</text>
<line x1="448.80" y1="313.80" x2="448.80" y2="316.80" stroke="#000" stroke-width="1"/>
<text x="448.8" y="331.3" font-size="10" font-weight="bold" text-anchor="middle" stroke="#000" stroke-width="0.3">50</text>
<line x1="481.00" y1="177.00" x2="481.00" y2="314.30" stroke="#000" stroke-width="1.2"/>
<line x1="479.50" y1="313.80" x2="514.50" y2="313.80" stroke="#000" stroke-width="1.2"/>
<line x1="478.50" y1="314.20" x2="481.00" y2="314.20" stroke="#000" stroke-width="1"/>
<text x="474" y="317.8" font-size="10.2" font-weight="normal" text-anchor="end" stroke="#000" stroke-width="0.15">0</text>
<line x1="478.50" y1="275.40" x2="481.00" y2="275.40" stroke="#000" stroke-width="1"/>
<text x="474" y="279.0" font-size="10.2" font-weight="normal" text-anchor="end" stroke="#000" stroke-width="0.15">50</text>
<line x1="478.50" y1="236.60" x2="481.00" y2="236.60" stroke="#000" stroke-width="1"/>
<text x="474" y="240.19999999999996" font-size="10.2" font-weight="normal" text-anchor="end" stroke="#000" stroke-width="0.15">100</text>
<line x1="478.50" y1="197.80" x2="481.00" y2="197.80" stroke="#000" stroke-width="1"/>
<text x="474" y="201.39999999999998" font-size="10.2" font-weight="normal" text-anchor="end" stroke="#000" stroke-width="0.15">150</text>
<line x1="479.50" y1="294.80" x2="481.00" y2="294.80" stroke="#000" stroke-width="0.6"/>
<line x1="479.50" y1="256.00" x2="481.00" y2="256.00" stroke="#000" stroke-width="0.6"/>
<line x1="479.50" y1="217.20" x2="481.00" y2="217.20" stroke="#000" stroke-width="0.6"/>
<text transform="translate(484.0 190.6) scale(1.08 1)" font-size="16" font-weight="bold" stroke="#000" stroke-width="0.3">H</text>
<rect x="485.20" y="199.80" width="9.50" height="114.00" fill="#000"/>
<line x1="489.95" y1="194.30" x2="489.95" y2="199.80" stroke="#000" stroke-width="1"/>
<line x1="488.45" y1="194.30" x2="491.45" y2="194.30" stroke="#000" stroke-width="1"/>
<rect x="501.40" y="201.50" width="9.40" height="112.30" fill="#000"/>
<line x1="506.10" y1="194.80" x2="506.10" y2="201.50" stroke="#000" stroke-width="1"/>
<line x1="504.60" y1="194.80" x2="507.60" y2="194.80" stroke="#000" stroke-width="1"/>
<line x1="489.80" y1="313.80" x2="489.80" y2="316.80" stroke="#000" stroke-width="1"/>
<text x="489.8" y="331" font-size="10" font-weight="bold" text-anchor="middle" stroke="#000" stroke-width="0.3">0</text>
<line x1="506.20" y1="313.80" x2="506.20" y2="316.80" stroke="#000" stroke-width="1"/>
<text x="506.2" y="331" font-size="10" font-weight="bold" text-anchor="middle" stroke="#000" stroke-width="0.3">50</text>
<text x="357.5" y="349.3" font-size="10.7" font-weight="bold" text-anchor="middle" stroke="#000" stroke-width="0.3">PolyP (<tspan style="font-family:&quot;Liberation Serif&quot;,serif;font-weight:normal;stroke-width:0.1" font-size="112%">μ</tspan>M phosphate)</text>
</svg>
</body></html>
